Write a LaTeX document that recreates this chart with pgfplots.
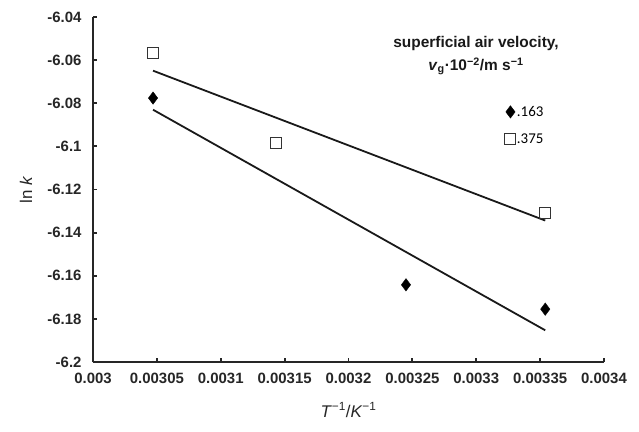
\documentclass[border=0pt]{standalone}
\usepackage{fontspec}
\setmainfont{Liberation Sans}
\newfontfamily\carlito{Carlito}
\usepackage{pgfplots}
\pgfplotsset{compat=1.18}
\begin{document}
\begin{tikzpicture}
\begin{axis}[
  scale only axis,
  width=511bp, height=345bp,
  xmin=0.003, xmax=0.0034,
  ymin=-6.2, ymax=-6.04,
  xtick={0.003,0.00305,0.0031,0.00315,0.0032,0.00325,0.0033,0.00335,0.0034},
  ytick={-6.2,-6.18,-6.16,-6.14,-6.12,-6.1,-6.08,-6.06,-6.04},
  scaled x ticks=false, scaled y ticks=false,
  xticklabel style={/pgf/number format/fixed,/pgf/number format/precision=5, yshift=-8bp},
  yticklabel style={/pgf/number format/fixed,/pgf/number format/precision=2, xshift=-8bp},
  /pgf/number format/assume math mode=true,
  ticklabel style={font=\fontsize{15}{15}\selectfont\bfseries, text=black!85},
  axis lines=left,
  axis line style={-, line width=1.8bp, black!85},
  tick style={line width=1.8bp, black!85},
  tick align=inside,
  major tick length=4bp,
  xlabel={\textit{T}\textsuperscript{−1}/\textit{K}\textsuperscript{−1}},
  ylabel={ln \textit{k}},
  label style={font=\fontsize{17}{17}\selectfont, text=black!85},
  xlabel style={at={(axis description cs:0.5,0)}, anchor=center, yshift=-48bp},
  ylabel style={at={(axis description cs:-0.131,0.5)}, anchor=center},
  legend style={at={(axis cs:0.0033223,-6.0803)}, anchor=north west, draw=none, fill=none,
    font=\carlito\fontsize{15}{15}\selectfont, inner sep=0pt, row sep=12bp,
    nodes={inner xsep=1bp}},
  legend cell align=left,
  legend image code/.code={\draw[mark repeat=2,mark phase=2] plot coordinates {(0bp,0bp)(6bp,0bp)(12bp,0bp)};},
  clip=false,
]
\addplot[only marks, mark=diamond*, mark size=6.2bp, mark options={fill=black, draw=black}]
  coordinates {(0.003047,-6.0776) (0.003245,-6.1642) (0.003354,-6.1755)};
\addlegendentry{.163}
\addplot[only marks, mark=square, mark size=5.5bp, mark options={draw=black!80, line width=1bp, fill=white}]
  coordinates {(0.003047,-6.0567) (0.003143,-6.0985) (0.003354,-6.1307)};
\addlegendentry{.375}
\addplot[black!90, line width=1.8bp, forget plot]
  coordinates {(0.003047,-6.0830) (0.003354,-6.1853)};
\addplot[black!90, line width=1.8bp, forget plot]
  coordinates {(0.003047,-6.0649) (0.003354,-6.1344)};
\node[align=center, font=\fontsize{15.5}{23}\selectfont\bfseries, text=black!90]
  at (axis cs:0.0032998,-6.0580)
  {superficial air velocity,\\ \textit{v}\textsubscript{g}·10\textsuperscript{−2}/m s\textsuperscript{−1}};
\end{axis}
\path (current axis.south west) ++(-93bp,-70bp) rectangle ++(639bp,432bp);
\end{tikzpicture}
\end{document}
